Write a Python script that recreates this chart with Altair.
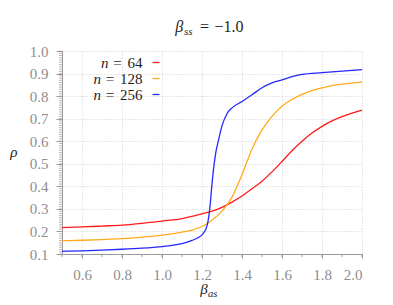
import altair as alt
import pandas as pd

# ---- data ----
series_names = ["n = 64", "n = 128", "n = 256"]
series_nums = ["64", "128", "256"]
series_colors = ["#ff1a1a", "#ffab1a", "#2626ff"]

beta_64 = [0.5, 0.6, 0.7, 0.8, 0.9, 1.0, 1.1, 1.2, 1.25, 1.3, 1.35, 1.4, 1.45, 1.5,
           1.55, 1.6, 1.65, 1.7, 1.75, 1.8, 1.85, 1.9, 1.95, 2.0]
rho_64 = [0.217, 0.220, 0.224, 0.228, 0.236, 0.246, 0.257, 0.278, 0.290, 0.307, 0.330,
          0.357, 0.389, 0.423, 0.464, 0.510, 0.558, 0.600, 0.636, 0.666, 0.690, 0.709,
          0.725, 0.738]

beta_128 = [0.5, 0.6, 0.7, 0.8, 0.9, 1.0, 1.1, 1.15, 1.2, 1.25, 1.3, 1.35, 1.4, 1.45,
            1.5, 1.55, 1.6, 1.65, 1.7, 1.75, 1.8, 1.85, 1.9, 1.95, 2.0]
rho_128 = [0.159, 0.161, 0.164, 0.168, 0.175, 0.184, 0.197, 0.206, 0.222, 0.250, 0.290,
           0.352, 0.452, 0.566, 0.650, 0.710, 0.755, 0.785, 0.808, 0.824, 0.836, 0.846,
           0.853, 0.858, 0.862]

beta_256 = [0.5, 0.6, 0.7, 0.8, 0.9, 1.0, 1.05, 1.1, 1.15, 1.18, 1.2, 1.21, 1.22, 1.23,
            1.24, 1.25, 1.26, 1.27, 1.28, 1.3, 1.325, 1.35, 1.4, 1.45, 1.5, 1.55, 1.6,
            1.65, 1.7, 1.8, 1.9, 2.0]
rho_256 = [0.112, 0.114, 0.117, 0.121, 0.126, 0.133, 0.138, 0.146, 0.160, 0.172, 0.185,
           0.196, 0.212, 0.245, 0.310, 0.410, 0.493, 0.555, 0.595, 0.668, 0.722, 0.748,
           0.776, 0.806, 0.837, 0.859, 0.872, 0.886, 0.896, 0.904, 0.911, 0.917]

x_labels = [0.6, 0.8, 1.0, 1.2, 1.4, 1.6, 1.8, 2.0]
y_labels = [0.1, 0.2, 0.3, 0.4, 0.5, 0.6, 0.7, 0.8, 0.9, 1.0]
x_minor = [round(0.5 + 0.1 * i, 2) for i in range(16)]
y_minor = [round(0.1 + 0.01 * i, 3) for i in range(91)]

# ---- tables ----
rows = []
for name, xs_, ys_ in zip(series_names, [beta_64, beta_128, beta_256],
                          [rho_64, rho_128, rho_256]):
    for a, b in zip(xs_, ys_):
        rows.append({"beta_as": a, "rho": b, "series": name})
df = pd.DataFrame(rows)
one = pd.DataFrame({"k": [0]})

FONT = "Liberation Serif"
GRAY = "#9a9a9a"
LABEL = "#8e8e8e"
INK = "#1e1e1e"

xs = alt.Scale(domain=[0.5, 2.0], nice=False, zero=False)
ys = alt.Scale(domain=[0.1, 1.0], nice=False, zero=False)
cs = alt.Scale(domain=series_names, range=series_colors)

x_axis = alt.Axis(values=x_labels, format=".1f", title=None, grid=True,
                  gridColor="#cfcfcf", gridDash=[1, 2], gridWidth=1,
                  domainColor=GRAY, tickColor=GRAY, tickSize=4,
                  labelColor=LABEL, labelFont=FONT, labelFontSize=15,
                  labelPadding=9)
y_axis = alt.Axis(values=y_labels, format=".1f", title=None, grid=True,
                  gridColor="#cfcfcf", gridDash=[1, 2], gridWidth=1,
                  domainColor=GRAY, tickColor=GRAY, tickSize=6,
                  labelColor=LABEL, labelFont=FONT, labelFontSize=15,
                  labelPadding=8)

lines = alt.Chart(df).mark_line(strokeWidth=1.3, interpolate="monotone").encode(
    x=alt.X("beta_as:Q", scale=xs, axis=x_axis),
    y=alt.Y("rho:Q", scale=ys, axis=y_axis),
    color=alt.Color("series:N", scale=cs, legend=None),
    order=alt.Order("beta_as:Q"),
)

# minor ticks (share the same axis definition so the axes merge)
xmin = alt.Chart(pd.DataFrame({"t": x_minor})).mark_rule(color=GRAY, strokeWidth=1).encode(
    x=alt.X("t:Q", scale=xs, axis=x_axis), y=alt.value(203), y2=alt.value(206))
ymin = alt.Chart(pd.DataFrame({"t": y_minor})).mark_rule(color=GRAY, strokeWidth=0.7).encode(
    y=alt.Y("t:Q", scale=ys, axis=y_axis), x=alt.value(-3), x2=alt.value(0))


def txt(s, x, y, size=15, italic=False, align="left", baseline="alphabetic"):
    kw = dict(align=align, baseline=baseline, font=FONT, fontSize=size, color=INK)
    if italic:
        kw["fontStyle"] = "italic"
    return alt.Chart(one).mark_text(**kw).encode(
        x=alt.value(x), y=alt.value(y), text=alt.value(s))


# ---- legend (manual, labels to the left of the line samples) ----
legend_layers = []
for i, (name, num) in enumerate(zip(series_names, series_nums)):
    ly = 11.5 + 16 * i
    nd = len(num)
    legend_layers.append(
        alt.Chart(pd.DataFrame({"series": [name]})).mark_rule(strokeWidth=1.3).encode(
            x=alt.value(90.5), x2=alt.value(97.5), y=alt.value(ly),
            color=alt.Color("series:N", scale=cs, legend=None)))
    legend_layers.append(txt(num, 80.5, ly, align="right", baseline="middle"))
    legend_layers.append(txt("=", 80.5 - 7.5 * nd - 10, ly, align="center", baseline="middle"))
    legend_layers.append(txt("n", 80.5 - 7.5 * nd - 19, ly, italic=True, align="right",
                             baseline="middle"))

title_parts = [
    txt("β", 113.3, -19.5, size=16, italic=True),
    txt("ss", 122.0, -16.5, size=11, italic=True),
    txt("=", 142.5, -19.5, size=16, align="center"),
    txt("−1.0", 152.5, -19.5, size=16),
]
xtitle = [
    txt("β", 138.3, 243.0, italic=True),
    txt("as", 146.0, 245.5, size=10.5, italic=True),
]
ytitle = [txt("ρ", -51.7, 106.0, italic=True)]

chart = alt.layer(
    lines, xmin, ymin, *legend_layers, *title_parts, *xtitle, *ytitle
).properties(
    width=300, height=203,
    padding={"left": 54, "top": 43, "right": 23, "bottom": 43},
    autosize=alt.AutoSizeParams(type="none"),
).configure(
    font=FONT
).configure_text(
    font=FONT
).configure_axis(
    labelFont=FONT
).configure_view(stroke=None)

chart.save("out.html", embed_options={"renderer": "svg", "actions": False})
